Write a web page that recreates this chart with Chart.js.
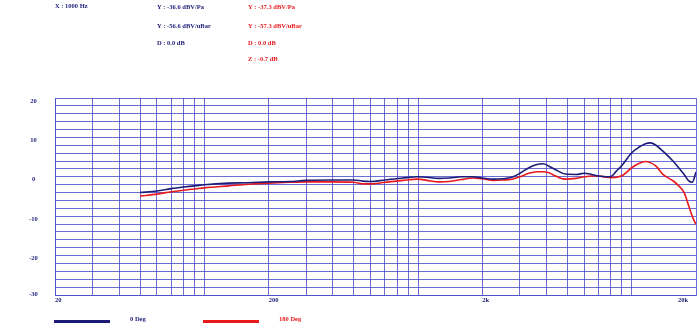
<!DOCTYPE html>
<html>
<head>
<meta charset="utf-8">
<script src="https://cdn.jsdelivr.net/npm/chart.js@4/dist/chart.umd.min.js"></script>
<style>
html,body{margin:0;padding:0;background:#fff;}
canvas{display:block;}
</style>
</head>
<body>
<canvas id="c" width="700" height="335"></canvas>
<script>
// Frequencies (Hz)
const freqs = [50,60,70,80,90,100,130,160,200,250,300,400,500,550,600,700,850,1000,1100,1250,1400,1600,1800,2000,2250,2500,2750,3000,3300,3600,3850,4100,4400,4900,5500,6000,6500,7000,7600,8000,8500,9100,10000,10800,11600,12200,13000,14000,15600,16600,17600,18400,19200,20000];
// 0 Deg response (dB)
const deg0 = [-4.0,-3.6,-3.0,-2.6,-2.3,-2.0,-1.6,-1.5,-1.3,-1.2,-0.9,-0.8,-0.8,-1.1,-1.2,-0.8,-0.3,0.0,-0.1,-0.4,-0.3,0.0,0.0,-0.3,-0.6,-0.5,-0.1,0.9,2.3,3.1,3.3,2.7,1.8,0.7,0.6,0.9,0.6,0.2,0.0,0.1,1.5,3.2,6.1,7.5,8.4,8.6,8.0,6.5,4.0,2.3,0.6,-0.9,-1.4,1.2];
// 180 Deg response (dB)
const deg180 = [-4.9,-4.4,-3.8,-3.4,-3.1,-2.8,-2.3,-1.9,-1.6,-1.4,-1.3,-1.3,-1.4,-1.8,-1.8,-1.4,-0.9,-0.6,-0.9,-1.3,-1.2,-0.7,-0.3,-0.5,-0.9,-0.8,-0.6,0.0,0.9,1.3,1.3,1.0,0.2,-0.6,-0.4,0.0,0.2,0.2,-0.1,-0.2,-0.1,0.4,2.3,3.4,3.9,3.6,2.7,0.6,-1.0,-2.3,-4.0,-7.0,-10.0,-12.1];
// Axis
const xGridTicks = [20,30,40,50,60,70,80,90,100,200,300,400,500,600,700,800,900,1000,2000,3000,4000,5000,6000,7000,8000,9000,10000,20000];
const xLabelValues = [20,200,2000,20000];
const xLabelTexts = ['20','200','2k','20k'];
const yLabelValues = [20,10,0,-10,-20,-30];
const seriesNames = ['0 Deg','180 Deg'];
// Header readouts
const headerBlue = ['Y : -36.6 dBV/Pa','Y : -56.6 dBV/uBar','D : 0.0 dB'];
const headerRed = ['Y : -37.3 dBV/Pa','Y : -57.3 dBV/uBar','D : 0.0 dB','Z : -0.7 dB'];
const headerX = 'X : 1000 Hz';

const NAVY = '#1c1c78';
const RED = '#e8191c';
const GRID = 'rgba(72,72,200,0.8)';
const FONT = 'bold 6.5px "Liberation Serif", "DejaVu Serif", serif';

const pts = arr => freqs.map((f,i)=>({x:f,y:arr[i]}));

const textPlugin = {
  id:'texts',
  beforeDraw(chart){
    const ctx = chart.ctx;
    ctx.save();
    ctx.fillStyle = '#fff';
    ctx.fillRect(0,0,chart.width,chart.height);
    ctx.restore();
  },
  afterDraw(chart){
    const ctx = chart.ctx;
    const xs = chart.scales.x, ys = chart.scales.y;
    ctx.save();
    ctx.font = FONT;
    ctx.textBaseline = 'middle';
    // header
    ctx.fillStyle = NAVY;
    ctx.textAlign = 'left';
    ctx.fillText(headerX, 55, 6);
    const rowY = [7, 26.5, 43, 59];
    headerBlue.forEach((t,i)=>ctx.fillText(t, 157, rowY[i]));
    ctx.fillStyle = RED;
    headerRed.forEach((t,i)=>ctx.fillText(t, 248, rowY[i]));
    // y labels
    ctx.fillStyle = NAVY;
    ctx.textAlign = 'center';
    yLabelValues.forEach(v=>{
      let y = ys.getPixelForValue(v) + 3;
      if (y > ys.bottom - 1) y = ys.bottom - 1;
      ctx.fillText(String(v), 33.5, y);
    });
    // x labels
    xLabelValues.forEach((v,i)=>{
      let x = xs.getPixelForValue(v);
      const w = ctx.measureText(xLabelTexts[i]).width;
      ctx.textAlign = 'left';
      if (x + w > chart.width - 10) x = x - w - 8;
      ctx.fillText(xLabelTexts[i], x, 300.5);
    });
    // legend
    const leg = [[54,110,130,NAVY],[203,259,279,RED]];
    leg.forEach((l,i)=>{
      ctx.strokeStyle = l[3];
      ctx.lineWidth = 3;
      ctx.beginPath();
      ctx.moveTo(l[0],321.5);
      ctx.lineTo(l[1],321.5);
      ctx.stroke();
      ctx.fillStyle = l[3];
      ctx.textAlign = 'left';
      ctx.fillText(seriesNames[i], l[2], 319.5);
    });
    ctx.restore();
  }
};

new Chart(document.getElementById('c'), {
  type:'line',
  data:{
    datasets:[
      {label:seriesNames[0], data:pts(deg0), borderColor:NAVY, borderWidth:1.6, pointRadius:0, cubicInterpolationMode:'monotone', fill:false},
      {label:seriesNames[1], data:pts(deg180), borderColor:RED, borderWidth:1.6, pointRadius:0, cubicInterpolationMode:'monotone', fill:false}
    ]
  },
  options:{
    responsive:false,
    animation:false,
    events:[],
    layout:{padding:{left:55,right:4,top:98,bottom:40}},
    plugins:{legend:{display:false},tooltip:{enabled:false},title:{display:false}},
    scales:{
      x:{
        type:'logarithmic', min:20, max:20000,
        afterBuildTicks(scale){ scale.ticks = xGridTicks.map(v=>({value:v})); },
        ticks:{display:false},
        grid:{color:GRID, lineWidth:1, drawTicks:false},
        border:{display:true,color:GRID,width:1}
      },
      y:{
        type:'linear', min:-30, max:20,
        ticks:{display:false, stepSize:2},
        grid:{color:GRID, lineWidth:1, drawTicks:false},
        border:{display:true,color:GRID,width:1}
      }
    }
  },
  plugins:[textPlugin]
});
</script>
</body>
</html>
